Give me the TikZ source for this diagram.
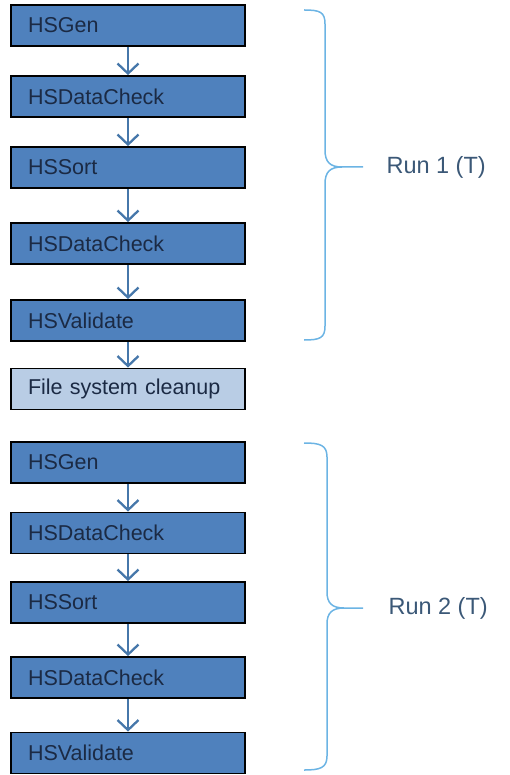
\documentclass[tikz,border=0pt]{standalone}
\usepackage{fontspec}
\setmainfont{Liberation Sans}
\usetikzlibrary{arrows.meta}
\definecolor{stepfill}{HTML}{4F81BD}
\definecolor{cleanfill}{HTML}{B9CDE5}
\definecolor{steptext}{HTML}{1B2A44}
\definecolor{flowblue}{HTML}{4677AA}
\definecolor{bracecol}{HTML}{6CB4E4}
\definecolor{runtext}{HTML}{3B5877}
\begin{document}
\begin{tikzpicture}[x=1pt,y=-1pt,
  stepbox/.style={draw=black,line width=1.8pt,fill=stepfill,text=steptext,
    minimum width=234pt,minimum height=41pt,text width=200pt,align=left,
    inner xsep=17pt,font=\fontsize{21.5}{25}\selectfont},
  flow/.style={draw=flowblue,line width=2.3pt,
    -{Straight Barb[length=10pt,width=21pt,line width=2.3pt]}},
  runbrace/.style={draw=bracecol,line width=1.5pt},
  runlabel/.style={anchor=west,text=runtext,font=\fontsize{23.5}{28}\selectfont}]
\useasboundingbox (0,0) rectangle (510,775);
% first run
\node[stepbox] (gen1) at (128,25.5) {HSGen};
\node[stepbox] (check1) at (128,96.5) {HSDataCheck};
\node[stepbox] (sort1) at (128,167.5) {HSSort};
\node[stepbox] (checkb1) at (128,243.5) {HSDataCheck};
\node[stepbox] (valid1) at (128,320.5) {HSValidate};
% cleanup between runs
\node[stepbox,fill=cleanfill] (clean) at (128,389) {File system cleanup};
% second run
\node[stepbox] (gen2) at (128,462.5) {HSGen};
\node[stepbox] (check2) at (128,533) {HSDataCheck};
\node[stepbox] (sort2) at (128,602.5) {HSSort};
\node[stepbox] (checkb2) at (128,677.5) {HSDataCheck};
\node[stepbox] (valid2) at (128,753) {HSValidate};
\draw[flow] (gen1) -- (check1);
\draw[flow] (check1) -- (sort1);
\draw[flow] (sort1) -- (checkb1);
\draw[flow] (checkb1) -- (valid1);
\draw[flow] (valid1) -- (clean);
\draw[flow] (gen2) -- (check2);
\draw[flow] (check2) -- (sort2);
\draw[flow] (sort2) -- (checkb2);
\draw[flow] (checkb2) -- (valid2);
% braces
\draw[runbrace] (304,10) .. controls (320,10) and (325,12) .. (325,24) -- (325,150)
  .. controls (325,162) and (330,167) .. (342,167) -- (363,167);
\draw[runbrace] (304,340) .. controls (320,340) and (325,338) .. (325,326) -- (325,184)
  .. controls (325,172) and (330,167) .. (342,167);
\node[runlabel] (run1) at (383,167) {Run 1 (T)};
\draw[runbrace] (304,443) .. controls (320,443) and (327,445) .. (327,457) -- (327,592)
  .. controls (327,603) and (332,608) .. (344,608) -- (363,608);
\draw[runbrace] (304,770) .. controls (320,770) and (327,768) .. (327,756) -- (327,624)
  .. controls (327,613) and (332,608) .. (344,608);
\node[runlabel] (run2) at (385,608) {Run 2 (T)};
\end{tikzpicture}
\end{document}
